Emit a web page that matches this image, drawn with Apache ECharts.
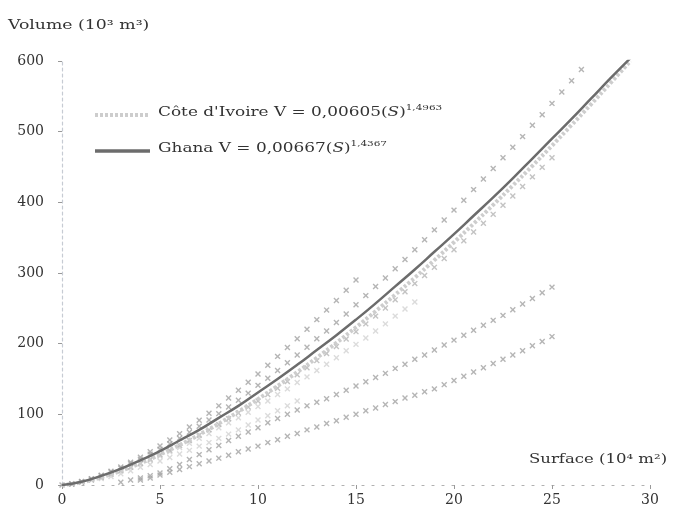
<!DOCTYPE html>
<html lang="fr">
<head>
<meta charset="UTF-8">
<title>Volume - Surface</title>
<script src="https://cdn.jsdelivr.net/npm/echarts@6/dist/echarts.min.js"></script>
<style>
  html, body { margin: 0; padding: 0; background: #fff; }
  #main { width: 675px; height: 517px; }
</style>
</head>
<body>
<div id="main"></div>
<script type="text/javascript">
// axe des x (10^4 m2) et axe des y (10^3 m3)
var xTicks = [0, 5, 10, 15, 20, 25, 30];
var yTicks = [0, 100, 200, 300, 400, 500, 600];

// courbes ajustees
var fitX = [0,1,2,3,4,5,6,7,8,9,10,11,12,13,14,15,16,17,18,19,20,21,22,23,24,25,26,27,28,29];
var civFit = [0,3.8,10.9,20,30.7,43,56.5,71.2,86.9,103.7,121.5,140.2,159.7,180,201.2,223.2,245.9,269.3,293.4,318.2,343.6,369.7,396.4,423.8,451.7,480.2,509.4,539,569.2,600];
var ghanaFit = [0,4.7,12.9,23,35,48,63,78,95,112,131,150,170,191,212,234,257,281,305,330,355,381,407,434,462,490,518,547,576,604];

// retenues (croix)
var resA = [[0,0],[0.5,1.5],[1,4.8],[1.5,8.5],[2,13.2],[2.5,18.3],[3,23.9],[3.5,30],[4,36.5],[4.5,43.5],[5,50.7],[5.5,58.3],[6,66.3],[6.5,74.6],[7,83.2],[7.5,92],[8,101],[8.5,110.5],[9,120],[9.5,130],[10,141],[10.5,151],[11,162],[11.5,173],[12,184],[12.5,195],[13,207],[13.5,218],[14,230],[14.5,242],[15,255],[15.5,268],[16,281],[16.5,293],[17,306],[17.5,319],[18,333],[18.5,347],[19,361],[19.5,375],[20,389],[20.5,403],[21,418],[21.5,433],[22,448],[22.5,463],[23,478],[23.5,493],[24,509],[24.5,524],[25,540],[25.5,556],[26,572],[26.5,588]];
var resB = [[0.5,1.7],[1,4.9],[1.5,9],[2,13.8],[2.5,19.4],[3,25.5],[3.5,32.2],[4,39.4],[4.5,47],[5,55.2],[5.5,63.8],[6,72.7],[6.5,82],[7,91.7],[7.5,101.6],[8,112],[8.5,123],[9,134],[9.5,145.5],[10,157],[10.5,169.5],[11,182],[11.5,194.5],[12,207],[12.5,220.5],[13,234],[13.5,247.5],[14,261],[14.5,275.5],[15,290]];
var resC = [[0.5,1.2],[1,3.9],[1.5,7.1],[2,11],[2.5,15.4],[3,20.1],[3.5,25.3],[4,30.7],[4.5,36.6],[5,42.7],[5.5,49.2],[6,56],[6.5,63],[7,70.4],[7.5,78],[8,85.7],[8.5,93.8],[9,102],[9.5,110.5],[10,119],[10.5,128],[11,137],[11.5,146.5],[12,156],[12.5,166],[13,176],[13.5,186],[14,196],[14.5,206.5],[15,217],[15.5,228],[16,239],[16.5,250.5],[17,262],[17.5,273.5],[18,285],[18.5,296.5],[19,308],[19.5,320.5],[20,333],[20.5,345.5],[21,358],[21.5,370.5],[22,383],[22.5,396],[23,409],[23.5,422.5],[24,436],[24.5,449.5],[25,463]];
var resD = [[3,4],[3.5,7],[4,10],[4.5,13],[5,17],[5.5,23],[6,29],[6.5,36],[7,43],[7.5,50],[8,56],[8.5,63],[9,69],[9.5,75],[10,81],[10.5,88],[11,94],[11.5,100],[12,106],[12.5,112],[13,117],[13.5,122],[14,128],[14.5,134],[15,140],[15.5,146],[16,152],[16.5,158],[17,165],[17.5,171],[18,178],[18.5,184],[19,191],[19.5,198],[20,205],[20.5,212],[21,219],[21.5,226],[22,233],[22.5,240],[23,248],[23.5,256],[24,264],[24.5,272],[25,280]];
var resE = [[4,7],[4.5,10],[5,14],[5.5,18],[6,22],[6.5,26],[7,30],[7.5,34],[8,38],[8.5,42],[9,47],[9.5,51],[10,55],[10.5,60],[11,64],[11.5,69],[12,73],[12.5,78],[13,82],[13.5,87],[14,91],[14.5,96],[15,100],[15.5,105],[16,109],[16.5,114],[17,118],[17.5,123],[18,127],[18.5,132],[19,136],[19.5,142],[20,148],[20.5,154],[21,160],[21.5,166],[22,172],[22.5,178],[23,184],[23.5,190],[24,197],[24.5,203],[25,210]];
var resL1 = [[1,4],[1.5,7],[2,11],[2.5,15],[3,20],[3.5,25],[4,30],[4.5,35],[5,41],[5.5,47],[6,53],[6.5,59],[7,66],[7.5,73],[8,81],[8.5,88],[9,95],[9.5,103],[10,111],[10.5,119],[11,128],[11.5,136],[12,145],[12.5,153],[13,162],[13.5,171],[14,180],[14.5,190],[15,199],[15.5,208],[16,218],[16.5,228],[17,239],[17.5,249],[18,259]];
var resL2 = [[2,9],[2.5,12],[3,16],[3.5,20],[4,25],[4.5,29],[5,34],[5.5,39],[6,44],[6.5,49],[7,55],[7.5,60],[8,66],[8.5,72],[9,78],[9.5,85],[10,92],[10.5,98],[11,105],[11.5,112],[12,119]];

var serif = 'DejaVu Serif';
var cross = 'path://M4,0h2v4h4v2h-4v4h-2v-4h-4v-2h4z';
var civColor = '#cdcdcd';
var ghanaColor = '#6c6c6c';

function pairs(xs, ys) {
    var out = [];
    for (var i = 0; i < xs.length; i++) {
        out.push([xs[i], ys[i]]);
    }
    return out;
}

function crosses(data, color) {
    return {
        type: 'scatter',
        data: data,
        symbol: cross,
        symbolSize: 7,
        symbolRotate: 45,
        silent: true,
        itemStyle: { color: color },
        z: 2
    };
}

var richStyle = {
    n: { fontFamily: serif, fontSize: 13, fill: '#333', lineHeight: 18 },
    i: { fontFamily: serif, fontSize: 13, fontStyle: 'italic', fill: '#333', lineHeight: 18 },
    s: { fontFamily: serif, fontSize: 8, fill: '#333', verticalAlign: 'top', lineHeight: 18 }
};

var myChart = echarts.init(document.getElementById('main'), null, { renderer: 'canvas' });

var option = {
    backgroundColor: '#fff',
    animation: false,
    grid: { left: 62, right: 25, top: 61, bottom: 32 },
    xAxis: {
        type: 'value',
        min: xTicks[0],
        max: xTicks[xTicks.length - 1],
        interval: 5,
        axisLine: { show: true, lineStyle: { color: '#b0b0b0', type: [2, 8], width: 1.2 } },
        axisTick: { show: true, length: 4, lineStyle: { color: '#999' } },
        axisLabel: { color: '#333', fontFamily: serif, fontSize: 14, margin: 8 },
        splitLine: { show: false }
    },
    yAxis: {
        type: 'value',
        min: yTicks[0],
        max: yTicks[yTicks.length - 1],
        interval: 100,
        axisLine: { show: true, lineStyle: { color: '#c6cbd3', type: [3, 3], width: 1.2 } },
        axisTick: { show: true, length: 4, lineStyle: { color: '#999' } },
        axisLabel: { color: '#333', fontFamily: serif, fontSize: 14, margin: 18 },
        splitLine: { show: false }
    },
    graphic: [
        {
            type: 'text', x: 8, y: 19, scaleX: 1.33,
            style: { text: 'Volume (10³ m³)', fill: '#333', font: '13px "DejaVu Serif"' }
        },
        {
            type: 'text', x: 529, y: 453, scaleX: 1.27,
            style: { text: 'Surface (10⁴ m²)', fill: '#333', font: '13px "DejaVu Serif"' }
        },
        // legende
        {
            type: 'line', shape: { x1: 95, y1: 115, x2: 150, y2: 115 },
            style: { stroke: civColor, lineWidth: 4, lineDash: [3, 2] }
        },
        {
            type: 'line', shape: { x1: 95, y1: 151, x2: 150, y2: 151 },
            style: { stroke: ghanaColor, lineWidth: 3.5 }
        },
        {
            type: 'text', x: 158, y: 113, scaleX: 1.3,
            style: {
                text: "{n|Côte d'Ivoire V = 0,00605(}{i|S}{n|)}{s|1,4963}",
                rich: richStyle, verticalAlign: 'middle'
            }
        },
        {
            type: 'text', x: 158, y: 149, scaleX: 1.3,
            style: {
                text: '{n|Ghana V = 0,00667(}{i|S}{n|)}{s|1,4367}',
                rich: richStyle, verticalAlign: 'middle'
            }
        }
    ],
    series: [
        crosses(resL2, '#d2d2d2'),
        crosses(resL1, '#d2d2d2'),
        crosses(resE, '#a2a2a2'),
        crosses(resD, '#a2a2a2'),
        crosses(resC, '#b4b4b4'),
        crosses(resB, '#a2a2a2'),
        crosses(resA, '#a2a2a2'),
        {
            name: "Côte d'Ivoire",
            type: 'line',
            data: pairs(fitX, civFit),
            symbol: 'none',
            smooth: true,
            silent: true,
            lineStyle: { color: civColor, width: 4, type: [3, 2] },
            z: 3
        },
        {
            name: 'Ghana',
            type: 'line',
            data: pairs(fitX, ghanaFit),
            symbol: 'none',
            smooth: true,
            silent: true,
            lineStyle: { color: ghanaColor, width: 2.5 },
            z: 4
        }
    ]
};

myChart.setOption(option);
</script>
</body>
</html>
